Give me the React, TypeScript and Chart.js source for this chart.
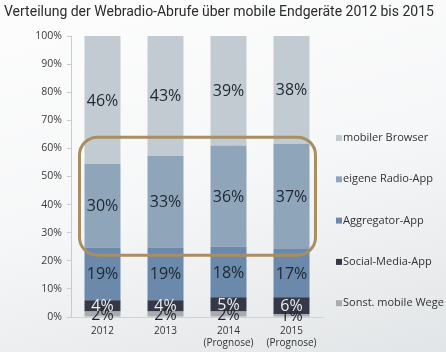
import React, { useEffect, useRef } from 'react';
import { Chart, registerables } from 'chart.js';

Chart.register(...registerables);

const chartTitle = 'Verteilung der Webradio-Abrufe über mobile Endgeräte 2012 bis 2015';
const categories = [['2012'], ['2013'], ['2014', '(Prognose)'], ['2015', '(Prognose)']];
const seriesNames = ['Sonst. mobile Wege', 'Social-Media-App', 'Aggregator-App', 'eigene Radio-App', 'mobiler Browser'];
const sonstigeWege = [2, 2, 2, 1];
const socialMediaApp = [4, 4, 5, 6];
const aggregatorApp = [19, 19, 18, 17];
const eigeneRadioApp = [30, 33, 36, 37];
const mobilerBrowser = [46, 43, 39, 38];
const seriesValues = [sonstigeWege, socialMediaApp, aggregatorApp, eigeneRadioApp, mobilerBrowser];
const seriesColors = ['#a9abad', '#353947', '#6a89ab', '#8fa6ba', '#c2cbd2'];
const valueLabelColors = ['#1f2630', '#eceef0', '#1f2630', '#1f2630', '#1f2630'];
const highlightRange = [22, 64];
const FONT = '"Open Sans", "DejaVu Sans", sans-serif';
const TITLE_FONT = 'Roboto, "Open Sans", sans-serif';

// each column is shown as a 100 % stack (rounded shares sum to 99–101)
const columnTotals = categories.map((_, i) => seriesValues.reduce((s, arr) => s + arr[i], 0));

const valueLabels = {
  id: 'valueLabels',
  afterDatasetsDraw(chart: any) {
    const ctx = chart.ctx;
    const area = chart.chartArea;
    ctx.save();
    ctx.font = `16px ${FONT}`;
    ctx.textAlign = 'center';
    ctx.textBaseline = 'middle';
    chart.data.datasets.forEach((ds: any, di: number) => {
      const meta = chart.getDatasetMeta(di);
      meta.data.forEach((el: any, i: number) => {
        const top = Math.max(el.y, area.top);
        const cy = (top + el.base) / 2;
        ctx.fillStyle = valueLabelColors[di];
        ctx.fillText(seriesValues[di][i] + '%', el.x, cy + 1);
      });
    });
    ctx.restore();
  },
};

const highlightBox = {
  id: 'highlightBox',
  afterDatasetsDraw(chart: any) {
    const ctx = chart.ctx;
    const xs = chart.scales.x;
    const ys = chart.scales.y;
    const left = xs.getPixelForValue(0) - 23;
    const right = xs.getPixelForValue(categories.length - 1) + 24;
    const top = ys.getPixelForValue(highlightRange[1]);
    const bottom = ys.getPixelForValue(highlightRange[0]);
    ctx.save();
    ctx.strokeStyle = '#a88e60';
    ctx.lineWidth = 3;
    ctx.beginPath();
    ctx.roundRect(left, top, right - left, bottom - top, 18);
    ctx.stroke();
    ctx.restore();
  },
};

const sideLegend = {
  id: 'sideLegend',
  afterDraw(chart: any) {
    const ctx = chart.ctx;
    const area = chart.chartArea;
    const x = area.right + 13;
    const startY = 138;
    const step = 41.3;
    ctx.save();
    ctx.font = `11px ${FONT}`;
    ctx.textAlign = 'left';
    ctx.textBaseline = 'middle';
    const ds = chart.data.datasets;
    for (let k = 0; k < ds.length; k++) {
      const d = ds[ds.length - 1 - k];
      const y = startY + k * step;
      ctx.fillStyle = d.backgroundColor;
      ctx.fillRect(x, y - 3, 6, 6);
      ctx.fillStyle = '#333333';
      ctx.fillText(d.label, x + 7, y);
    }
    ctx.restore();
  },
};

export default function App() {
  const ref = useRef<HTMLCanvasElement>(null);
  useEffect(() => {
    const chart = new Chart(ref.current as HTMLCanvasElement, {
      type: 'bar',
      data: {
        labels: categories as any,
        datasets: seriesNames.map((name, i) => ({
          label: name,
          data: seriesValues[i].map((v, j) => (v / columnTotals[j]) * 100),
          backgroundColor: seriesColors[i],
          borderWidth: 0,
          barPercentage: 0.571,
          categoryPercentage: 1,
        })),
      },
      options: {
        animation: false,
        responsive: true,
        maintainAspectRatio: false,
        layout: { padding: { left: 4, right: 0, top: 0, bottom: 0 } },
        plugins: {
          legend: { display: false },
          tooltip: { enabled: false },
          title: {
            display: true,
            text: chartTitle,
            align: 'start',
            color: '#2b2b2b',
            font: { family: TITLE_FONT, size: 14, weight: 'normal' },
            padding: { top: 4.5, bottom: 14.7 },
          },
        },
        scales: {
          x: {
            stacked: true,
            grid: { display: false, drawTicks: false },
            border: { display: true, color: '#cfd2d5' },
            ticks: { padding: 8, color: '#333333', font: { family: FONT, size: 10 } },
            afterFit: (s: any) => { s.height = 35; },
          },
          y: {
            stacked: true,
            min: 0,
            max: 100,
            ticks: {
              stepSize: 10,
              padding: 5,
              color: '#3a3a3a',
              font: { family: FONT, size: 10.5 },
              callback: (v: any) => v + '%',
            },
            grid: { drawOnChartArea: false, drawTicks: true, tickLength: 4, color: '#c9cccf' },
            border: { display: true, color: '#c9cccf' },
            afterFit: (s: any) => { s.width = 67; },
          },
          legendSpace: {
            type: 'linear',
            position: 'right',
            display: true,
            grid: { display: false, drawTicks: false },
            border: { display: false },
            ticks: { display: false },
            afterFit: (s: any) => { s.width = 123; },
          },
        },
      },
      plugins: [valueLabels, highlightBox, sideLegend],
    } as any);
    return () => chart.destroy();
  }, []);
  return (
    <div
      style={{
        position: 'absolute',
        left: 0,
        top: 0,
        width: 446,
        height: 352,
        background: 'linear-gradient(165deg, #fdfdfd 0%, #f6f7f8 50%, #e2e5e7 100%)',
      }}
    >
      <canvas ref={ref} />
    </div>
  );
}
